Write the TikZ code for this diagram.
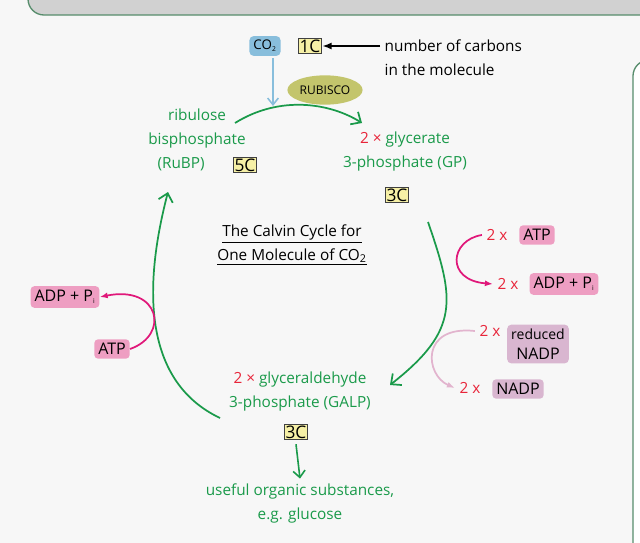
\documentclass[tikz,border=0pt]{standalone}
\usepackage{fontspec}
\setmainfont{Open Sans}
\usetikzlibrary{shapes.geometric,arrows.meta}
\definecolor{leaf}{HTML}{1A9A4A}
\definecolor{redx}{HTML}{E8253A}
\definecolor{pinkbox}{HTML}{EE9EC2}
\definecolor{magentaline}{HTML}{E0187A}
\definecolor{lavender}{HTML}{D9B6D0}
\definecolor{lightpink}{HTML}{E2B4CE}
\definecolor{carbon}{HTML}{F6F0A6}
\definecolor{bluebox}{HTML}{88BEDC}
\definecolor{olive}{HTML}{C3C56C}
\begin{document}
\begin{tikzpicture}[x=0.75pt,y=-0.75pt,font=\fontsize{11.5}{18}\selectfont]
    \tikzset{
        cbox/.style={draw=black!75, fill=carbon, line width=0.8pt, inner sep=1pt, font=\fontsize{13}{14}\selectfont},
        mol/.style={rounded corners=3pt, inner sep=3pt, font=\fontsize{12}{14}\selectfont},
        molname/.style={text=leaf, align=center},
        cyclearrow/.style={draw=leaf, line width=1.3pt, -{Straight Barb[length=6pt,width=11pt]}}}
    \useasboundingbox (0,0) rectangle (640,543);
    %Hintergrund
    \fill[black!3] (0,0) rectangle (640,543);
    \draw[leaf!60!black!70, line width=1pt, fill=black!18, rounded corners=12pt] (28,-20) rectangle (660,15);
    \draw[leaf!60!black!70, line width=1pt, fill=white, rounded corners=12pt] (633,60) rectangle (680,560);

    %CO2
    \node[mol, fill=bluebox, font=\fontsize{10}{12}\selectfont] (co2) at (265,46) {CO\textsubscript{\tiny 2}};
    \node[cbox] (c1) at (310,46) {1C};
    \node[anchor=west, align=left] (note) at (380,58) {number of carbons\\in the molecule};
    \draw[-{Latex[length=7pt]}, line width=1.2pt] (note.west |- c1) -- (c1.east);
    \node[ellipse, fill=olive, inner sep=1pt, minimum width=56pt, minimum height=22pt, font=\fontsize{9}{10}\selectfont] (rubisco) at (325,90) {RUBISCO};

    %Molekuele
    \node[molname] (rubp) at (197,140) {ribulose\\bisphosphate\\(RuBP)\phantom{ 5CC}};
    \node[cbox] (c5) at (245,165) {5C};
    \node[molname] (gp) at (405,152) {\textcolor{redx}{2 ×} glycerate\\3-phosphate (GP)};
    \node[cbox] (c3a) at (397,195) {3C};
    \node[molname] (galp) at (300,392) {\textcolor{redx}{2 ×} glyceraldehyde\\3-phosphate (GALP)};
    \node[cbox] (c3b) at (296,432) {3C};
    \node[molname] (useful) at (300,503) {useful organic substances,\\e.g. glucose};
    \node[align=center] (title) at (292,245)
        {\underline{The Calvin Cycle for}\\\underline{One Molecule of CO\textsubscript{2}}};

    %Zyklus
    \coordinate (co2end) at (273,106);
    \draw[bluebox, line width=1.2pt, -{Straight Barb[length=5pt,width=8pt]}] (273,58) -- (co2end);
    \draw[cyclearrow] (235,123) .. controls (280,95) and (330,103) .. (362,123);
    \draw[cyclearrow] (428,222) .. controls (455,300) and (460,330) .. (390,385);
    \draw[cyclearrow] (220,418) .. controls (140,380) and (145,280) .. (168,192);
    \draw[leaf, line width=1.2pt, -{Straight Barb[length=5pt,width=9pt]}] (c3b.south) ++(0,4) -- (useful.north);

    %ATP rechts
    \node[text=redx] (x1) at (497,235) {2 x};
    \node[mol, fill=pinkbox] (atpr) at (537,235) {ATP};
    \node[text=redx] (x2) at (508,284) {2 x};
    \node[mol, fill=pinkbox] (adpr) at (564,284) {ADP + P\textsubscript{\tiny i}};
    \draw[magentaline, line width=1.3pt, -{Latex[length=6pt]}] (x1.west) .. controls (450,240) and (445,280) .. (x2.west);

    %NADP
    \node[text=redx] (x3) at (490,331) {2 x};
    \node[mol, fill=lavender, align=center, font=\fontsize{12}{15}\selectfont] (rnadp) at (538,344) {\fontsize{10.5}{12}\selectfont reduced\\NADP};
    \node[text=redx] (x4) at (470,388) {2 x};
    \node[mol, fill=lavender] (nadp) at (518,389) {NADP};
    \draw[lightpink, line width=1.3pt, -{Latex[length=6pt]}] (x3.west) .. controls (420,325) and (425,375) .. (x4.west);

    %ATP links
    \node[mol, fill=pinkbox] (adpl) at (65,297) {ADP + P\textsubscript{\tiny i}};
    \node[mol, fill=pinkbox] (atpl) at (112,349) {ATP};
    \draw[magentaline, line width=1.3pt, -{Latex[length=6pt]}] (atpl.east) .. controls (170,335) and (160,285) .. (adpl.east);
\end{tikzpicture}
\end{document}
